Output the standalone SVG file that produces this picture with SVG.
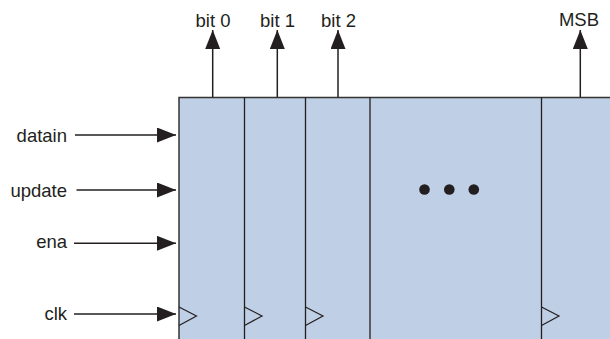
<svg xmlns="http://www.w3.org/2000/svg" width="610" height="339" viewBox="0 0 610 339">
<defs>
<style>
text{font-family:"Liberation Sans",Arial,sans-serif;font-size:18.5px;fill:#231f20}
.in{text-anchor:end}
.out{text-anchor:middle}
.ln{stroke:#231f20;stroke-width:1.5;fill:none}
.div{stroke:#231f20;stroke-width:1.3;fill:none}
.clk{stroke:#231f20;stroke-width:1.2;fill:none}
</style>
<marker id="ah" viewBox="0 0 19 15" refX="19" refY="7.5" markerWidth="19" markerHeight="15" markerUnits="userSpaceOnUse" orient="auto">
<path d="M0,0 L19,7.5 L0,15 Z" fill="#231f20"/>
</marker>
</defs>
<rect width="610" height="339" fill="#fff"/>
<g id="register">
<rect x="179" y="97.5" width="440" height="260" fill="#bfcfe5" stroke="#333" stroke-width="1.5"/>
<line class="div" x1="244.5" y1="97.5" x2="244.5" y2="339"/>
<line class="div" x1="305.5" y1="97.5" x2="305.5" y2="339"/>
<line class="div" x1="370" y1="97.5" x2="370" y2="339"/>
<line class="div" x1="541.5" y1="97.5" x2="541.5" y2="339"/>
<path class="clk" d="M179,307 L196.5,316 L179,325.5"/>
<path class="clk" d="M244.5,307 L262,316 L244.5,325.5"/>
<path class="clk" d="M305.5,307 L323,316 L305.5,325.5"/>
<path class="clk" d="M541.5,307 L559,316 L541.5,325.5"/>
<circle cx="424.5" cy="189.5" r="5.3" fill="#231f20"/>
<circle cx="449.3" cy="189.5" r="5.3" fill="#231f20"/>
<circle cx="473.8" cy="189.5" r="5.3" fill="#231f20"/>
</g>
<g id="labels">
<text class="in" x="67" y="142.3">datain</text>
<text class="in" x="67" y="196.5">update</text>
<text class="in" x="67" y="248">ena</text>
<text class="in" x="67" y="320">clk</text>
<text class="out" x="213" y="27">bit 0</text>
<text class="out" x="277.5" y="27">bit 1</text>
<text class="out" x="338.5" y="27">bit 2</text>
<text class="out" x="579" y="26">MSB</text>
</g>
<g id="connectors">
<line class="ln" x1="75" y1="135" x2="176" y2="135" marker-end="url(#ah)"/>
<line class="ln" x1="76.5" y1="190" x2="176" y2="190" marker-end="url(#ah)"/>
<line class="ln" x1="74" y1="243.3" x2="176" y2="243.3" marker-end="url(#ah)"/>
<line class="ln" x1="74" y1="314" x2="176" y2="314" marker-end="url(#ah)"/>
<line class="ln" x1="212.7" y1="97" x2="212.7" y2="30" marker-end="url(#ah)"/>
<line class="ln" x1="277.3" y1="97" x2="277.3" y2="30" marker-end="url(#ah)"/>
<line class="ln" x1="338" y1="97" x2="338" y2="30" marker-end="url(#ah)"/>
<line class="ln" x1="580.3" y1="97" x2="580.3" y2="30" marker-end="url(#ah)"/>
</g>
</svg>
